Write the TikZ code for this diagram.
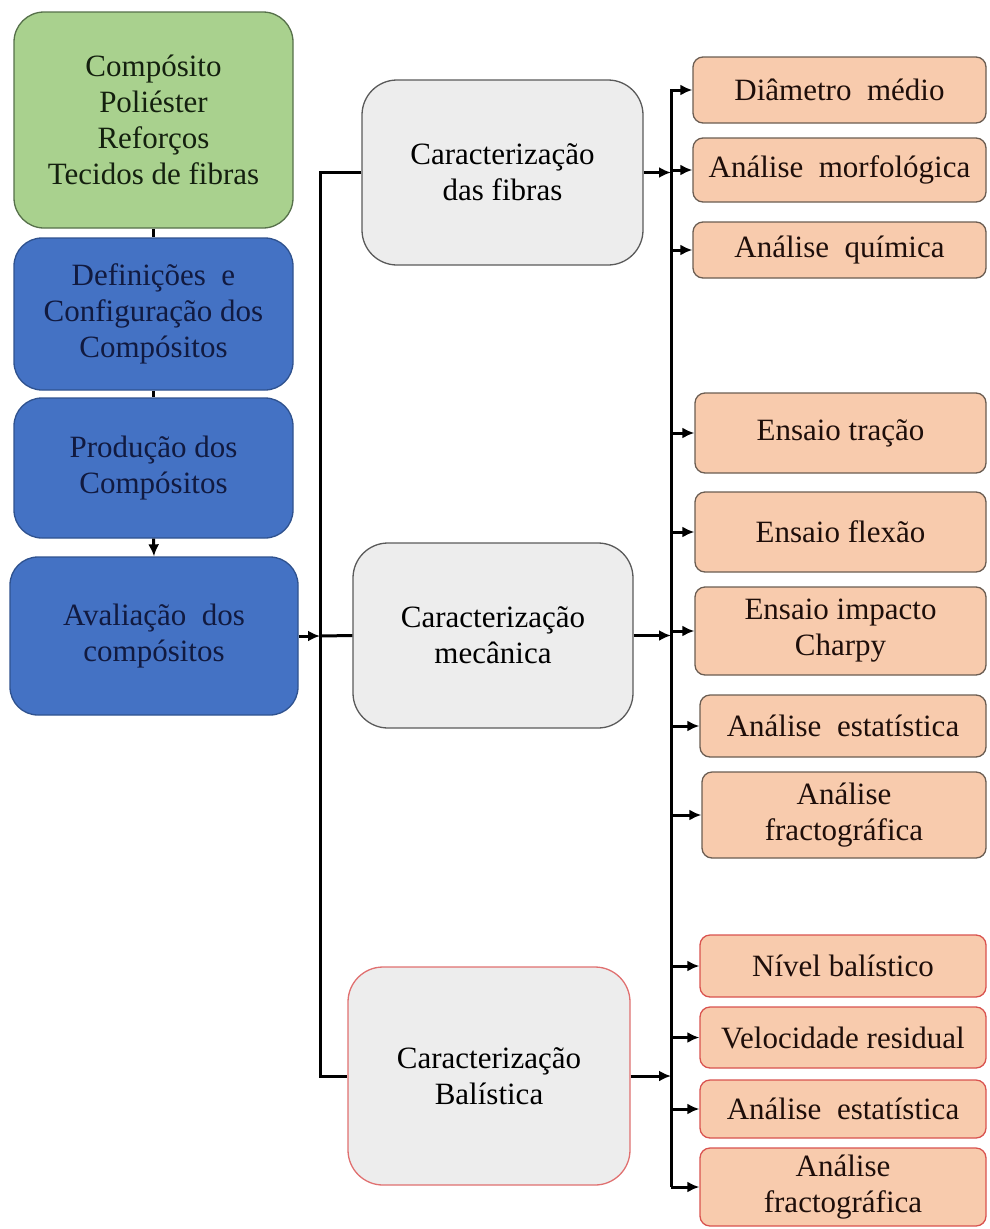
\documentclass[tikz,border=0pt]{standalone}
\usepackage{fontspec}
\setmainfont{Liberation Serif}
\newfontfamily\tnr{Liberation Serif}
\usetikzlibrary{arrows.meta}
\definecolor{gfill}{HTML}{A9D18E}
\definecolor{gdraw}{HTML}{56704A}
\definecolor{gtext}{HTML}{14200F}
\definecolor{bfill}{HTML}{4472C4}
\definecolor{bdraw}{HTML}{2F528F}
\definecolor{btext}{HTML}{111A40}
\definecolor{cfill}{HTML}{EDEDED}
\definecolor{cdraw}{HTML}{5A5A5A}
\definecolor{rdraw}{HTML}{E07070}
\definecolor{pfill}{HTML}{F8CBAD}
\definecolor{pdraw}{HTML}{6B5D52}
\definecolor{prdraw}{HTML}{D9534F}
\definecolor{ptext}{HTML}{1E0E0A}
\begin{document}
\begin{tikzpicture}[x=1pt,y=-1pt,
  base/.style={align=center, inner sep=2pt, line width=1.3pt, font=\tnr\fontsize{31}{36}\selectfont},
  greenbox/.style={base, rounded corners=30pt, fill=gfill, draw=gdraw, text=gtext},
  bluebox/.style={base, rounded corners=28pt, fill=bfill, draw=bdraw, text=btext},
  graybox/.style={base, rounded corners=35pt, fill=cfill, draw=cdraw, text=black},
  redgraybox/.style={base, rounded corners=35pt, fill=cfill, draw=rdraw, text=black},
  peachbox/.style={base, rounded corners=10pt, fill=pfill, draw=pdraw, text=ptext},
  redpeachbox/.style={base, rounded corners=10pt, fill=pfill, draw=prdraw, text=ptext},
  ln/.style={line width=3pt, black},
  arr/.style={ln, -{Latex[length=12pt,width=11pt]}}]
\useasboundingbox (0,0) rectangle (989,1229);

% left column
\node[greenbox, minimum width=279pt, minimum height=216pt] (green) at (153.5,120) {Compósito\\Poliéster\\Reforços\\Tecidos de fibras};
\node[bluebox, minimum width=279pt, minimum height=152pt] (blue1) at (153.5,314) {Definições\enspace e\\Configuração dos\\Compósitos};
\node[bluebox, minimum width=279pt, minimum height=140pt] (blue2) at (153.5,468) {Produção dos\\Compósitos};
\node[bluebox, minimum width=288pt, minimum height=158pt] (blue3) at (154,636) {Avaliação\enspace dos\\compósitos};

% middle column
\node[graybox, minimum width=281pt, minimum height=185pt] (fibras) at (502.5,172.5) {Caracterização\\das fibras};
\node[graybox, minimum width=280pt, minimum height=185pt] (mec) at (493,635.5) {Caracterização\\mecânica};
\node[redgraybox, minimum width=282pt, minimum height=218pt] (bal) at (489,1076) {Caracterização\\Balística};

% right column
\node[peachbox, minimum width=293pt, minimum height=66pt] (dia) at (839.5,90) {Diâmetro\enspace médio};
\node[peachbox, minimum width=293pt, minimum height=64pt] (morf) at (839.5,170) {Análise\enspace morfológica};
\node[peachbox, minimum width=293pt, minimum height=56pt] (quim) at (839.5,250) {Análise\enspace química};
\node[peachbox, minimum width=291pt, minimum height=80pt] (trac) at (840.5,433) {Ensaio tração};
\node[peachbox, minimum width=291pt, minimum height=80pt] (flex) at (840.5,532) {Ensaio flexão};
\node[peachbox, minimum width=291pt, minimum height=88pt] (charpy) at (840.5,631) {Ensaio impacto\\Charpy};
\node[peachbox, minimum width=286pt, minimum height=62pt] (est1) at (843,726) {Análise\enspace estatística};
\node[peachbox, minimum width=284pt, minimum height=86pt] (frac1) at (844,815) {Análise\\fractográfica};
\node[redpeachbox, minimum width=286pt, minimum height=62pt] (niv) at (843,966) {Nível balístico};
\node[redpeachbox, minimum width=286pt, minimum height=61pt] (vel) at (843,1037.5) {Velocidade residual};
\node[redpeachbox, minimum width=286pt, minimum height=58pt] (est2) at (843,1109) {Análise\enspace estatística};
\node[redpeachbox, minimum width=286pt, minimum height=78pt] (frac2) at (843,1187) {Análise\\fractográfica};

% left connectors
\draw[ln] (green.south) -- (blue1.north);
\draw[ln] (blue1.south) -- (blue2.north);
\draw[arr] (blue2.south) -- (blue3.north);
\coordinate (lt) at (320,636);
\draw[arr] (blue3.east) -- (lt);
\draw[ln] (fibras.west) -| (lt) |- (bal.west);
\draw[ln] (lt) -- (mec.west);

% right connectors
\coordinate (rt) at (671,0);
\draw[arr] (fibras.east) -- (fibras.east -| rt);
\draw[arr] (mec.east) -- (mec.east -| rt);
\draw[arr] (bal.east) -- (bal.east -| rt);
\draw[arr] (frac2.west -| rt) -- (dia.west -| rt) -- (dia.west);
\foreach \n in {morf,quim,trac,flex,charpy,est1,frac1,niv,vel,est2,frac2}
  \draw[arr] (\n.west -| rt) -- (\n.west);
\end{tikzpicture}
\end{document}
